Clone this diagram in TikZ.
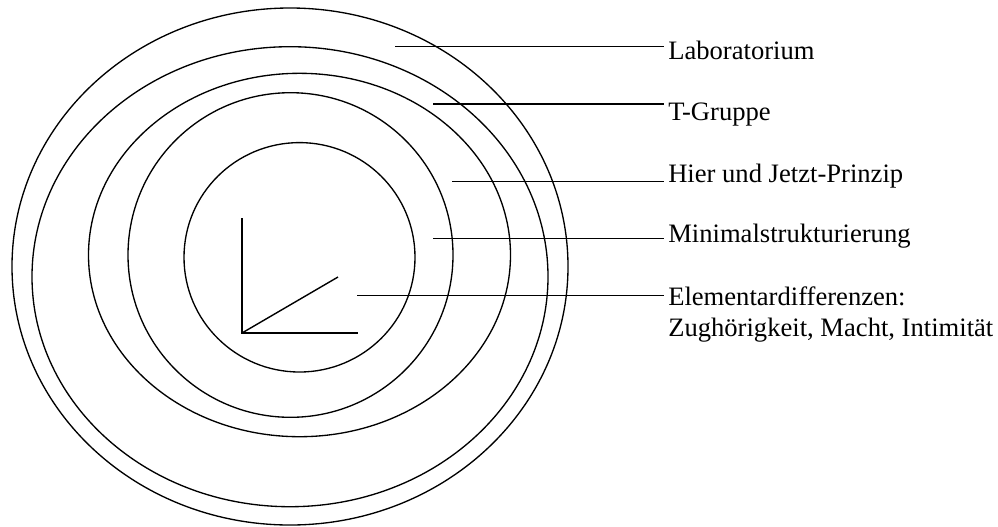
\documentclass[tikz,border=0pt]{standalone}
\usepackage{fontspec}
\setmainfont{Liberation Serif}
\begin{document}
\begin{tikzpicture}[x=0.75pt,y=-0.75pt,
  ring/.style={draw=black,line width=1pt},
  lead/.style={draw=black,line width=1.05pt},
  lbl/.style={anchor=base west,inner xsep=3pt,inner ysep=0pt,font=\fontsize{19.95}{23.25}\selectfont}]
\useasboundingbox (0,0) rectangle (998,526);
% rings
\draw[ring] (290,266.5) ellipse [x radius=278, y radius=258.5];
\draw[ring] (290,276.7) ellipse [x radius=258, y radius=230];
\draw[ring] (299.5,255) ellipse [x radius=211, y radius=181.7];
\draw[ring] (290.5,255) ellipse [x radius=162.5, y radius=162.3];
\draw[ring] (299.5,257.3) ellipse [x radius=115.5, y radius=114.7];
% axes
\coordinate (ay) at (242,218);
\coordinate (ao) at (242,333);
\coordinate (ax) at (358,333);
\coordinate (ad) at (338,277);
\draw[lead] (ay) -- (ao) -- (ax);
\draw[lead] (ao) -- (ad);
% labels
\node[lbl] (l1) at (664,59) {Laboratorium};
\node[lbl] (l2) at (664,120.7) {T-Gruppe};
\node[lbl] (l3) at (664,182.3) {Hier und Jetzt-Prinzip};
\node[lbl] (l4) at (664,242.3) {Minimalstrukturierung};
\node[lbl] (l5) at (664,305) {\begin{tabular}[t]{@{}l@{}}Elementardifferenzen:\\Zughörigkeit, Macht, Intimität\end{tabular}};
% leader start points
\coordinate (c1) at (395,46.7);
\coordinate (c2) at (433,104);
\coordinate (c3) at (452,181.3);
\coordinate (c4) at (433,238.3);
\coordinate (c5) at (357,295.7);
\draw[lead] (c1) -- (c1 -| l1.west);
\draw[lead] (c2) -- (c2 -| l2.west);
\draw[lead] (c3) -- (c3 -| l3.west);
\draw[lead] (c4) -- (c4 -| l4.west);
\draw[lead] (c5) -- (c5 -| l5.west);
\end{tikzpicture}
\end{document}
